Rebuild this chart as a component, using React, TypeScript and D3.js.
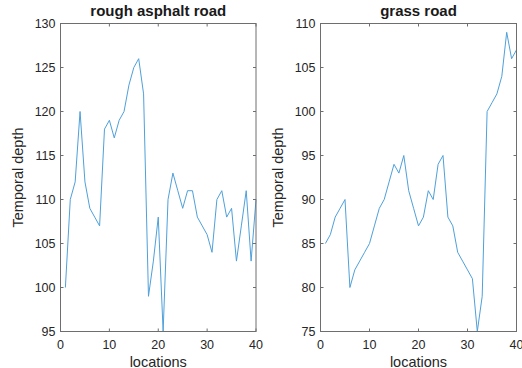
import React from "react";
import * as d3 from "d3";

const locations = d3.range(1, 41);
const asphaltDepth = [100, 110, 112, 120, 112, 109, 108, 107, 118, 119, 117, 119, 120, 123, 125, 126, 122, 99, 103, 108, 95, 110, 113, 111, 109, 111, 111, 108, 107, 106, 104, 110, 111, 108, 109, 103, 107, 111, 103, 110];
const grassDepth = [85, 86, 88, 89, 90, 80, 82, 83, 84, 85, 87, 89, 90, 92, 94, 93, 95, 91, 89, 87, 88, 91, 90, 94, 95, 88, 87, 84, 83, 82, 81, 75, 79, 100, 101, 102, 104, 109, 106, 107];
const xTicks = [0, 10, 20, 30, 40];
const asphaltYTicks = [95, 100, 105, 110, 115, 120, 125, 130];
const grassYTicks = [75, 80, 85, 90, 95, 100, 105, 110];

const W = 522, H = 368;
const font = "Arial, 'Liberation Sans', Helvetica, sans-serif";
const axisColor = "#6e6e6e";
const lineColor = "#4fa0da";

type PanelProps = {
  left: number; right: number; top: number; bottom: number;
  title: string; values: number[]; yDomain: [number, number]; yTicks: number[];
};

function Panel({ left, right, top, bottom, title, values, yDomain, yTicks }: PanelProps) {
  const x = d3.scaleLinear().domain([0, 40]).range([left, right]);
  const y = d3.scaleLinear().domain(yDomain).range([bottom, top]);
  const line = d3.line<number>().x((_, i) => x(locations[i])).y((d) => y(d));
  const tl = 3;
  return (
    <g>
      <path d={line(values) || ""} fill="none" stroke={lineColor} strokeWidth={1} />
      <rect x={left} y={top} width={right - left} height={bottom - top} fill="none" stroke={axisColor} strokeWidth={1} />
      {xTicks.map((t) => (
        <g key={"x" + t}>
          <line x1={x(t)} x2={x(t)} y1={bottom} y2={bottom - tl} stroke={axisColor} />
          <line x1={x(t)} x2={x(t)} y1={top} y2={top + tl} stroke={axisColor} />
          <text x={x(t)} y={bottom + 17} textAnchor="middle" fontSize={12.5} fill="#262626" fontFamily={font}>{t}</text>
        </g>
      ))}
      {yTicks.map((t) => (
        <g key={"y" + t}>
          <line x1={left} x2={left + tl} y1={y(t)} y2={y(t)} stroke={axisColor} />
          <line x1={right} x2={right - tl} y1={y(t)} y2={y(t)} stroke={axisColor} />
          <text x={left - 5} y={y(t) + 4.5} textAnchor="end" fontSize={12.5} fill="#262626" fontFamily={font}>{t}</text>
        </g>
      ))}
      <text x={(left + right) / 2} y={16} textAnchor="middle" fontSize={15} fontWeight="bold" fill="#1a1a1a" fontFamily={font}>{title}</text>
      <text x={(left + right) / 2} y={bottom + 35} textAnchor="middle" fontSize={14.5} fill="#262626" fontFamily={font}>locations</text>
      <text transform={`translate(${left - 38},${(top + bottom) / 2}) rotate(-90)`} textAnchor="middle" fontSize={14.5} fill="#262626" fontFamily={font}>Temporal depth</text>
    </g>
  );
}

export default function App() {
  return (
    <svg width={W} height={H} style={{ position: "absolute", left: 0, top: 0, background: "#fff" }}>
      <rect width={W} height={H} fill="#fff" />
      <Panel left={60.5} right={256} top={23.5} bottom={331.5} title="rough asphalt road" values={asphaltDepth} yDomain={[95, 130]} yTicks={asphaltYTicks} />
      <Panel left={320.5} right={516.5} top={23.5} bottom={331.5} title="grass road" values={grassDepth} yDomain={[75, 110]} yTicks={grassYTicks} />
    </svg>
  );
}
